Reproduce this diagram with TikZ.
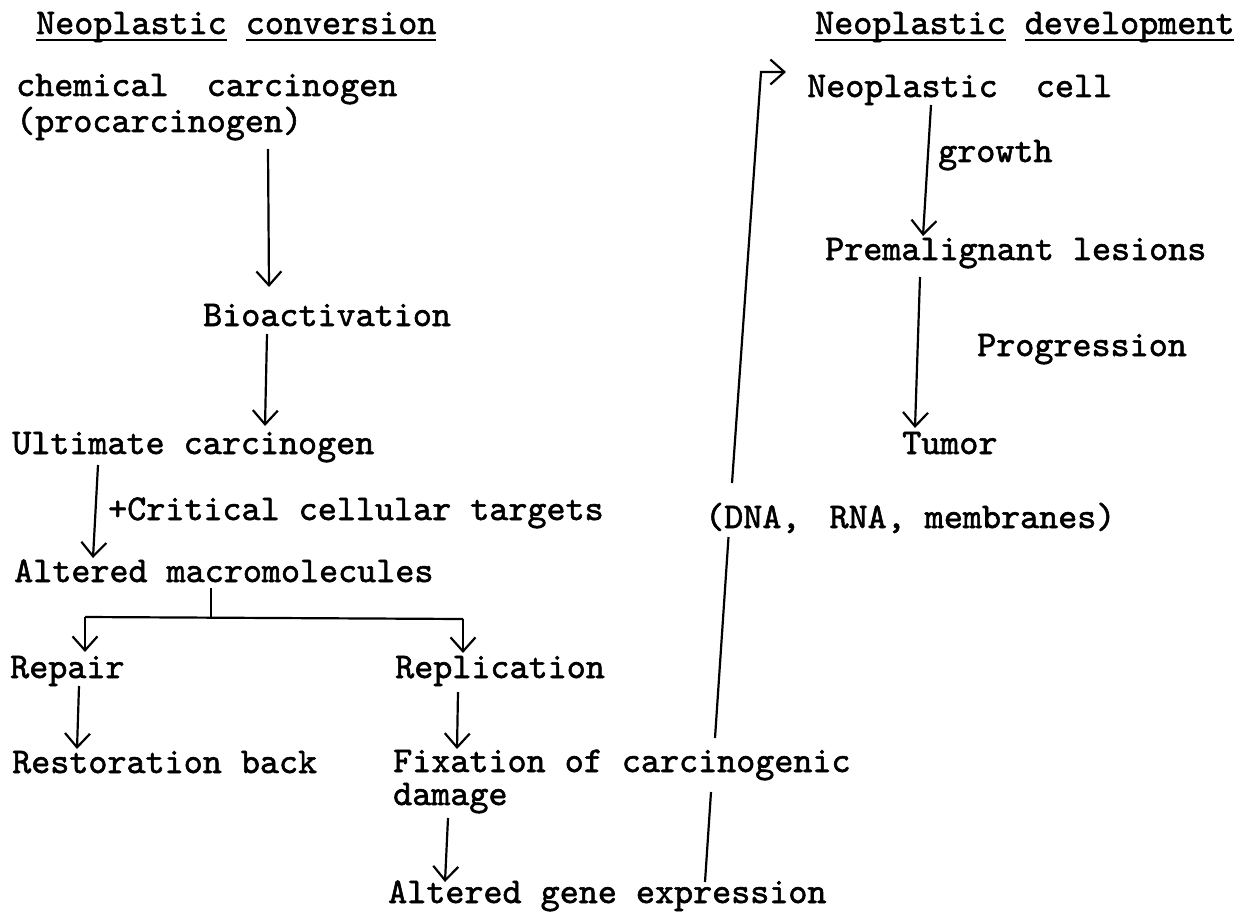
\documentclass[tikz,border=0pt]{standalone}
\usetikzlibrary{arrows.meta}
\font\twfont="[lmmono10-regular.otf]:embolden=1.6" at 36.3pt
\newcommand\myul[1]{\setbox0\hbox{#1}\rlap{\rule[-7pt]{\wd0}{1.8pt}}\box0\relax}
\begin{document}
\begin{tikzpicture}[x=1pt,y=-1pt,
  lbl/.style={anchor=base west,inner sep=0pt,font=\twfont},
  conn/.style={line width=2.2pt},
  arr/.style={conn,-{Straight Barb[length=14pt,width=25pt,line width=2.2pt]}}]
\path[use as bounding box,fill=white] (0,0) rectangle (1241,912);
% left column
\node[lbl] (t1) at (36,34) {\myul{Neoplastic} \myul{conversion}};
\node[lbl] (chem) at (16,96) {chemical\ \ carcinogen};
\node[lbl] (proc) at (16,132) {(procarcinogen)};
\node[lbl] (bio) at (203,326) {Bioactivation};
\node[lbl] (ult) at (12,454) {Ultimate carcinogen};
\node[lbl] (crit) at (108,520) {+Critical cellular targets};
\node[lbl] (alt) at (14,582) {Altered macromolecules};
\node[lbl] (rep) at (10,678) {Repair};
\node[lbl] (res) at (12,773) {Restoration back};
\node[lbl] (repl) at (395,678) {Replication};
\node[lbl] (fix) at (393,772) {Fixation of carcinogenic};
\node[lbl] (dam) at (393,805) {damage};
\node[lbl] (gene) at (388,903) {Altered gene expression};
% right column
\node[lbl] (t2) at (815,34) {\myul{Neoplastic} \myul{development}};
\node[lbl] (cell) at (807,97) {Neoplastic\ \ cell};
\node[lbl] (grow) at (938,162) {growth};
\node[lbl] (prem) at (825,260) {Premalignant lesions};
\node[lbl] (prog) at (977,356) {Progression};
\node[lbl] (tum) at (902,454) {Tumor};
\node[lbl] (dna) at (705,528) {(DNA,\hspace{10pt} RNA, membranes)};
% connector coordinates
\coordinate (c1a) at (268,149); \coordinate (c1b) at (269,287);
\coordinate (c2a) at (267,334); \coordinate (c2b) at (265,426);
\coordinate (c3a) at (98,465); \coordinate (c3b) at (93,558);
\coordinate (br0) at (211,588); \coordinate (br1) at (211,617);
\coordinate (brl) at (85,617); \coordinate (brr) at (463,619);
\coordinate (brlt) at (85,652); \coordinate (brrt) at (463,653);
\coordinate (c4a) at (79,686); \coordinate (c4b) at (77,749);
\coordinate (c5a) at (458,692); \coordinate (c5b) at (457,749);
\coordinate (c6a) at (448,818); \coordinate (c6b) at (445,882);
\coordinate (g0) at (705,882); \coordinate (g1) at (711,792);
\coordinate (g2) at (715,738); \coordinate (g3) at (728.5,537);
\coordinate (g4) at (732,483); \coordinate (g5) at (761,72);
\coordinate (g6) at (786,72);
\coordinate (r1a) at (931,105); \coordinate (r1b) at (923,236);
\coordinate (r2a) at (920,277); \coordinate (r2b) at (915,428);
% arrows
\draw[arr] (c1a) -- (c1b);
\draw[arr] (c2a) -- (c2b);
\draw[arr] (c3a) -- (c3b);
\draw[conn] (br0) -- (br1);
\draw[conn] (brl) -- (brr);
\draw[arr] (brl) -- (brlt);
\draw[arr] (brr) -- (brrt);
\draw[arr] (c4a) -- (c4b);
\draw[arr] (c5a) -- (c5b);
\draw[arr] (c6a) -- (c6b);
\draw[conn] (g0) -- (g1);
\draw[conn] (g2) -- (g3);
\draw[arr] (g4) -- (g5) -- (g6);
\draw[arr] (r1a) -- (r1b);
\draw[arr] (r2a) -- (r2b);
\end{tikzpicture}
\end{document}
